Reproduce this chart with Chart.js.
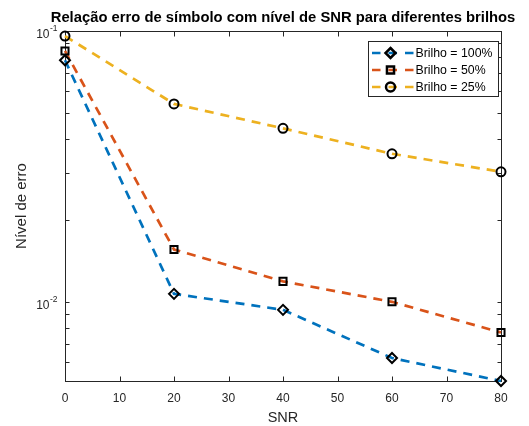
<!DOCTYPE html>
<html>
<head>
<meta charset="utf-8">
<script src="https://cdn.jsdelivr.net/npm/chart.js@4"></script>
<style>
html,body{margin:0;padding:0;background:#fff;}
</style>
</head>
<body>
<canvas id="chart" width="529" height="426"></canvas>
<script>
// Dados
const snr = [0, 20, 40, 60, 80];
const brilho100 = [0.078, 0.0107, 0.00934, 0.0062, 0.0051];
const brilho50  = [0.0844, 0.0156, 0.0119, 0.0100, 0.0077];
const brilho25  = [0.0958, 0.0538, 0.0437, 0.0352, 0.0302];
const seriesLabels = ['Brilho = 100%', 'Brilho = 50%', 'Brilho = 25%'];
const xTicks = [0, 10, 20, 30, 40, 50, 60, 70, 80];
const yMajor = [0.01, 0.1];
const yMajorExp = ['-2', '-1'];
const yMin = 0.0051, yMax = 0.1;
const titleText = 'Relação erro de símbolo com nível de SNR para diferentes brilhos';
const xTitle = 'SNR';
const yTitle = 'Nível de erro';

const FONT = "'Liberation Sans', Arial, Helvetica, sans-serif";
const AX = '#262626';

function yMinorTicks(){
  const out = [];
  for (let e = -3; e <= -1; e++) for (let k = 1; k <= 9; k++){
    const v = Number((k * Math.pow(10, e)).toPrecision(3));
    if (v >= yMin && v <= yMax) out.push(v);
  }
  return out;
}

function marker(ctx, style, x, y, r){
  ctx.beginPath();
  if (style === 'rectRot'){ ctx.moveTo(x, y-r); ctx.lineTo(x+r, y); ctx.lineTo(x, y+r); ctx.lineTo(x-r, y); ctx.closePath(); }
  else if (style === 'rect'){ const s = r*Math.SQRT1_2; ctx.rect(x-s, y-s, 2*s, 2*s); }
  else ctx.arc(x, y, r, 0, Math.PI*2);
  ctx.stroke();
}

const matlabAxes = {
  id: 'matlabAxes',
  beforeDatasetsDraw(chart){
    const {ctx, chartArea:a, scales:{x, y}} = chart;
    const L = Math.round(a.left)+.5, R = Math.round(a.right)+.5, T = Math.round(a.top)+.5, B = Math.round(a.bottom)+.5;
    ctx.save();
    ctx.strokeStyle = AX; ctx.lineWidth = 1;
    ctx.strokeRect(L, T, R-L, B-T);
    ctx.beginPath();
    xTicks.forEach(v => {
      const px = Math.round(x.getPixelForValue(v))+.5;
      ctx.moveTo(px, B); ctx.lineTo(px, B-5);
      ctx.moveTo(px, T); ctx.lineTo(px, T+5);
    });
    yMinorTicks().forEach(v => {
      const py = Math.round(y.getPixelForValue(v))+.5;
      ctx.moveTo(L, py); ctx.lineTo(L+4, py);
      ctx.moveTo(R, py); ctx.lineTo(R-4, py);
    });
    ctx.stroke();

    // rótulos do eixo y (10^n)
    ctx.fillStyle = AX;
    yMajor.forEach((v, i) => {
      const py = y.getPixelForValue(v);
      ctx.font = `12px ${FONT}`; ctx.textAlign = 'right'; ctx.textBaseline = 'middle';
      ctx.fillText('10', 49.5, py+4);
      ctx.font = `8.5px ${FONT}`; ctx.textAlign = 'left';
      ctx.fillText(yMajorExp[i], 50, py-2);
    });

    // títulos
    const cx = (a.left + a.right)/2, cy = (a.top + a.bottom)/2;
    ctx.textAlign = 'center'; ctx.textBaseline = 'middle';
    ctx.font = `14.5px ${FONT}`;
    ctx.fillText(xTitle, cx, 418);
    ctx.font = `15px ${FONT}`;
    ctx.save(); ctx.translate(22, cy); ctx.rotate(-Math.PI/2); ctx.fillText(yTitle, 0, 0); ctx.restore();
    ctx.fillStyle = '#000';
    ctx.font = `bold 14.8px ${FONT}`;
    ctx.fillText(titleText, cx, 17.5);
    ctx.restore();
  },
  afterDraw(chart){
    const {ctx, chartArea:a} = chart;
    const bx = Math.round(a.right) - 132.5, by = Math.round(a.top) + 10.5, bw = 130, bh = 55;
    ctx.save();
    ctx.fillStyle = '#fff'; ctx.fillRect(bx, by, bw, bh);
    ctx.strokeStyle = AX; ctx.lineWidth = 1; ctx.strokeRect(bx, by, bw, bh);
    chart.data.datasets.forEach((d, i) => {
      const yy = by + 11.5 + i*17;
      ctx.setLineDash([8.5, 8]); ctx.lineWidth = d.borderWidth; ctx.strokeStyle = d.borderColor;
      ctx.beginPath(); ctx.moveTo(bx+3.5, yy); ctx.lineTo(bx+45, yy); ctx.stroke();
      ctx.setLineDash([]); ctx.lineWidth = d.pointBorderWidth + 0.5; ctx.strokeStyle = '#000';
      marker(ctx, d.pointStyle, bx+22, yy, d.pointRadius);
      ctx.fillStyle = '#000'; ctx.font = `12.3px ${FONT}`; ctx.textAlign = 'left'; ctx.textBaseline = 'middle';
      ctx.fillText(d.label, bx+47, yy+0.5);
    });
    ctx.restore();
  }
};

function serie(label, vals, color, style, r){
  return {
    label, data: snr.map((s, i) => ({x: s, y: vals[i]})),
    borderColor: color, backgroundColor: color, borderWidth: 2.7, borderDash: [9, 7],
    pointStyle: style, pointRadius: r, pointHoverRadius: r, pointBorderColor: '#000',
    pointBackgroundColor: 'rgba(0,0,0,0)', pointBorderWidth: 2, tension: 0, fill: false, clip: false
  };
}

new Chart(document.getElementById('chart').getContext('2d'), {
  type: 'line',
  data: { datasets: [
    serie(seriesLabels[0], brilho100, '#0072BD', 'rectRot', 5),
    serie(seriesLabels[1], brilho50,  '#D95319', 'rect', 5),
    serie(seriesLabels[2], brilho25,  '#EDB120', 'circle', 4.5),
  ]},
  options: {
    responsive: false, animation: false,
    layout: { padding: { top: 31, right: 28, left: 0, bottom: 0 } },
    plugins: { legend: { display: false }, tooltip: { enabled: false }, title: { display: false } },
    scales: {
      x: {
        type: 'linear', min: 0, max: 80,
        grid: { display: false, drawTicks: false }, border: { display: false },
        afterBuildTicks: s => { s.ticks = xTicks.map(v => ({value: v})); },
        afterFit: s => { s.height = 45; },
        ticks: { color: AX, font: { family: FONT, size: 12 }, padding: 10, maxRotation: 0, autoSkip: false }
      },
      y: {
        type: 'logarithmic', min: yMin, max: yMax,
        grid: { display: false, drawTicks: false }, border: { display: false },
        ticks: { display: false },
        afterFit: s => { s.width = 65; }
      }
    }
  },
  plugins: [matlabAxes]
});
</script>
</body>
</html>
